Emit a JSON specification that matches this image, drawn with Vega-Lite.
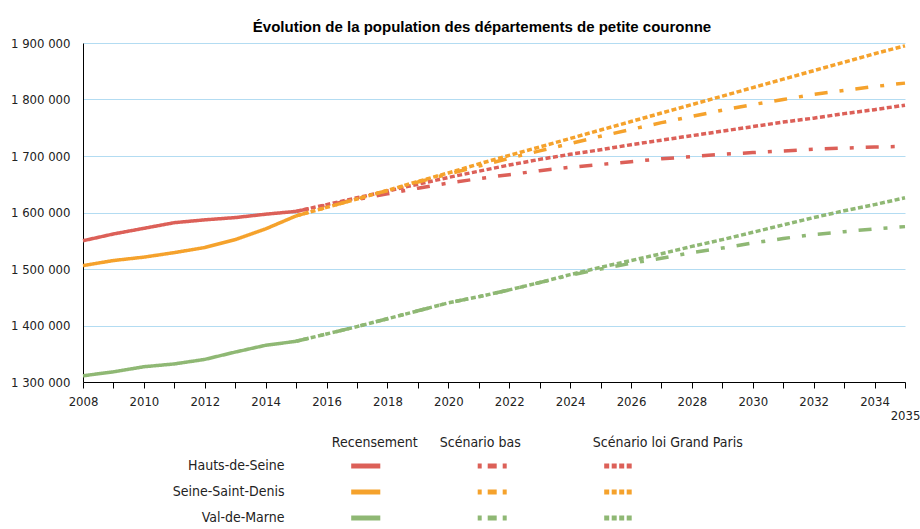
{
  "$schema": "https://vega.github.io/schema/vega-lite/v6.json",
  "background": "white",
  "padding": {"left": 10, "top": 20, "right": 5, "bottom": 5},
  "config": {
    "view": {"stroke": null},
    "font": "DejaVu Sans Condensed",
    "locale": {"number": {"decimal": ",", "thousands": " ", "grouping": [3], "currency": ["", " €"]}},
    "axis": {"labelFont": "DejaVu Sans Condensed", "labelColor": "#222222"}
  },
  "datasets": {
    "series": [
      {"year": 2008, "dept": "Hauts-de-Seine", "scenario": "Recensement", "pop": 1550000},
      {"year": 2009, "dept": "Hauts-de-Seine", "scenario": "Recensement", "pop": 1562000},
      {"year": 2010, "dept": "Hauts-de-Seine", "scenario": "Recensement", "pop": 1572000},
      {"year": 2011, "dept": "Hauts-de-Seine", "scenario": "Recensement", "pop": 1582000},
      {"year": 2012, "dept": "Hauts-de-Seine", "scenario": "Recensement", "pop": 1587000},
      {"year": 2013, "dept": "Hauts-de-Seine", "scenario": "Recensement", "pop": 1591000},
      {"year": 2014, "dept": "Hauts-de-Seine", "scenario": "Recensement", "pop": 1597000},
      {"year": 2015, "dept": "Hauts-de-Seine", "scenario": "Recensement", "pop": 1602000},
      {"year": 2008, "dept": "Seine-Saint-Denis", "scenario": "Recensement", "pop": 1506000},
      {"year": 2009, "dept": "Seine-Saint-Denis", "scenario": "Recensement", "pop": 1515000},
      {"year": 2010, "dept": "Seine-Saint-Denis", "scenario": "Recensement", "pop": 1521000},
      {"year": 2011, "dept": "Seine-Saint-Denis", "scenario": "Recensement", "pop": 1529000},
      {"year": 2012, "dept": "Seine-Saint-Denis", "scenario": "Recensement", "pop": 1538000},
      {"year": 2013, "dept": "Seine-Saint-Denis", "scenario": "Recensement", "pop": 1552000},
      {"year": 2014, "dept": "Seine-Saint-Denis", "scenario": "Recensement", "pop": 1571000},
      {"year": 2015, "dept": "Seine-Saint-Denis", "scenario": "Recensement", "pop": 1594000},
      {"year": 2008, "dept": "Val-de-Marne", "scenario": "Recensement", "pop": 1311000},
      {"year": 2009, "dept": "Val-de-Marne", "scenario": "Recensement", "pop": 1318000},
      {"year": 2010, "dept": "Val-de-Marne", "scenario": "Recensement", "pop": 1327000},
      {"year": 2011, "dept": "Val-de-Marne", "scenario": "Recensement", "pop": 1332000},
      {"year": 2012, "dept": "Val-de-Marne", "scenario": "Recensement", "pop": 1340000},
      {"year": 2013, "dept": "Val-de-Marne", "scenario": "Recensement", "pop": 1353000},
      {"year": 2014, "dept": "Val-de-Marne", "scenario": "Recensement", "pop": 1365000},
      {"year": 2015, "dept": "Val-de-Marne", "scenario": "Recensement", "pop": 1372000},

      {"year": 2015, "dept": "Hauts-de-Seine", "scenario": "Scénario bas", "pop": 1602000},
      {"year": 2016, "dept": "Hauts-de-Seine", "scenario": "Scénario bas", "pop": 1613000},
      {"year": 2017, "dept": "Hauts-de-Seine", "scenario": "Scénario bas", "pop": 1623000},
      {"year": 2018, "dept": "Hauts-de-Seine", "scenario": "Scénario bas", "pop": 1633000},
      {"year": 2019, "dept": "Hauts-de-Seine", "scenario": "Scénario bas", "pop": 1643000},
      {"year": 2020, "dept": "Hauts-de-Seine", "scenario": "Scénario bas", "pop": 1652000},
      {"year": 2021, "dept": "Hauts-de-Seine", "scenario": "Scénario bas", "pop": 1660000},
      {"year": 2022, "dept": "Hauts-de-Seine", "scenario": "Scénario bas", "pop": 1667000},
      {"year": 2023, "dept": "Hauts-de-Seine", "scenario": "Scénario bas", "pop": 1674000},
      {"year": 2024, "dept": "Hauts-de-Seine", "scenario": "Scénario bas", "pop": 1680000},
      {"year": 2025, "dept": "Hauts-de-Seine", "scenario": "Scénario bas", "pop": 1685000},
      {"year": 2026, "dept": "Hauts-de-Seine", "scenario": "Scénario bas", "pop": 1690000},
      {"year": 2027, "dept": "Hauts-de-Seine", "scenario": "Scénario bas", "pop": 1695000},
      {"year": 2028, "dept": "Hauts-de-Seine", "scenario": "Scénario bas", "pop": 1699000},
      {"year": 2029, "dept": "Hauts-de-Seine", "scenario": "Scénario bas", "pop": 1703000},
      {"year": 2030, "dept": "Hauts-de-Seine", "scenario": "Scénario bas", "pop": 1706000},
      {"year": 2031, "dept": "Hauts-de-Seine", "scenario": "Scénario bas", "pop": 1709000},
      {"year": 2032, "dept": "Hauts-de-Seine", "scenario": "Scénario bas", "pop": 1712000},
      {"year": 2033, "dept": "Hauts-de-Seine", "scenario": "Scénario bas", "pop": 1714000},
      {"year": 2034, "dept": "Hauts-de-Seine", "scenario": "Scénario bas", "pop": 1716000},
      {"year": 2035, "dept": "Hauts-de-Seine", "scenario": "Scénario bas", "pop": 1717000},

      {"year": 2015, "dept": "Hauts-de-Seine", "scenario": "Scénario loi Grand Paris", "pop": 1602000},
      {"year": 2016, "dept": "Hauts-de-Seine", "scenario": "Scénario loi Grand Paris", "pop": 1614000},
      {"year": 2017, "dept": "Hauts-de-Seine", "scenario": "Scénario loi Grand Paris", "pop": 1626000},
      {"year": 2018, "dept": "Hauts-de-Seine", "scenario": "Scénario loi Grand Paris", "pop": 1638000},
      {"year": 2019, "dept": "Hauts-de-Seine", "scenario": "Scénario loi Grand Paris", "pop": 1650000},
      {"year": 2020, "dept": "Hauts-de-Seine", "scenario": "Scénario loi Grand Paris", "pop": 1662000},
      {"year": 2021, "dept": "Hauts-de-Seine", "scenario": "Scénario loi Grand Paris", "pop": 1673000},
      {"year": 2022, "dept": "Hauts-de-Seine", "scenario": "Scénario loi Grand Paris", "pop": 1684000},
      {"year": 2023, "dept": "Hauts-de-Seine", "scenario": "Scénario loi Grand Paris", "pop": 1694000},
      {"year": 2024, "dept": "Hauts-de-Seine", "scenario": "Scénario loi Grand Paris", "pop": 1703000},
      {"year": 2025, "dept": "Hauts-de-Seine", "scenario": "Scénario loi Grand Paris", "pop": 1711000},
      {"year": 2026, "dept": "Hauts-de-Seine", "scenario": "Scénario loi Grand Paris", "pop": 1720000},
      {"year": 2027, "dept": "Hauts-de-Seine", "scenario": "Scénario loi Grand Paris", "pop": 1728000},
      {"year": 2028, "dept": "Hauts-de-Seine", "scenario": "Scénario loi Grand Paris", "pop": 1736000},
      {"year": 2029, "dept": "Hauts-de-Seine", "scenario": "Scénario loi Grand Paris", "pop": 1744000},
      {"year": 2030, "dept": "Hauts-de-Seine", "scenario": "Scénario loi Grand Paris", "pop": 1752000},
      {"year": 2031, "dept": "Hauts-de-Seine", "scenario": "Scénario loi Grand Paris", "pop": 1760000},
      {"year": 2032, "dept": "Hauts-de-Seine", "scenario": "Scénario loi Grand Paris", "pop": 1767000},
      {"year": 2033, "dept": "Hauts-de-Seine", "scenario": "Scénario loi Grand Paris", "pop": 1775000},
      {"year": 2034, "dept": "Hauts-de-Seine", "scenario": "Scénario loi Grand Paris", "pop": 1782000},
      {"year": 2035, "dept": "Hauts-de-Seine", "scenario": "Scénario loi Grand Paris", "pop": 1790000},

      {"year": 2015, "dept": "Seine-Saint-Denis", "scenario": "Scénario bas", "pop": 1594000},
      {"year": 2016, "dept": "Seine-Saint-Denis", "scenario": "Scénario bas", "pop": 1609000},
      {"year": 2017, "dept": "Seine-Saint-Denis", "scenario": "Scénario bas", "pop": 1624000},
      {"year": 2018, "dept": "Seine-Saint-Denis", "scenario": "Scénario bas", "pop": 1639000},
      {"year": 2019, "dept": "Seine-Saint-Denis", "scenario": "Scénario bas", "pop": 1654000},
      {"year": 2020, "dept": "Seine-Saint-Denis", "scenario": "Scénario bas", "pop": 1668000},
      {"year": 2021, "dept": "Seine-Saint-Denis", "scenario": "Scénario bas", "pop": 1682000},
      {"year": 2022, "dept": "Seine-Saint-Denis", "scenario": "Scénario bas", "pop": 1696000},
      {"year": 2023, "dept": "Seine-Saint-Denis", "scenario": "Scénario bas", "pop": 1709000},
      {"year": 2024, "dept": "Seine-Saint-Denis", "scenario": "Scénario bas", "pop": 1722000},
      {"year": 2025, "dept": "Seine-Saint-Denis", "scenario": "Scénario bas", "pop": 1735000},
      {"year": 2026, "dept": "Seine-Saint-Denis", "scenario": "Scénario bas", "pop": 1747000},
      {"year": 2027, "dept": "Seine-Saint-Denis", "scenario": "Scénario bas", "pop": 1759000},
      {"year": 2028, "dept": "Seine-Saint-Denis", "scenario": "Scénario bas", "pop": 1770000},
      {"year": 2029, "dept": "Seine-Saint-Denis", "scenario": "Scénario bas", "pop": 1781000},
      {"year": 2030, "dept": "Seine-Saint-Denis", "scenario": "Scénario bas", "pop": 1791000},
      {"year": 2031, "dept": "Seine-Saint-Denis", "scenario": "Scénario bas", "pop": 1800000},
      {"year": 2032, "dept": "Seine-Saint-Denis", "scenario": "Scénario bas", "pop": 1809000},
      {"year": 2033, "dept": "Seine-Saint-Denis", "scenario": "Scénario bas", "pop": 1816000},
      {"year": 2034, "dept": "Seine-Saint-Denis", "scenario": "Scénario bas", "pop": 1823000},
      {"year": 2035, "dept": "Seine-Saint-Denis", "scenario": "Scénario bas", "pop": 1829000},

      {"year": 2015, "dept": "Seine-Saint-Denis", "scenario": "Scénario loi Grand Paris", "pop": 1594000},
      {"year": 2016, "dept": "Seine-Saint-Denis", "scenario": "Scénario loi Grand Paris", "pop": 1609000},
      {"year": 2017, "dept": "Seine-Saint-Denis", "scenario": "Scénario loi Grand Paris", "pop": 1624000},
      {"year": 2018, "dept": "Seine-Saint-Denis", "scenario": "Scénario loi Grand Paris", "pop": 1639000},
      {"year": 2019, "dept": "Seine-Saint-Denis", "scenario": "Scénario loi Grand Paris", "pop": 1655000},
      {"year": 2020, "dept": "Seine-Saint-Denis", "scenario": "Scénario loi Grand Paris", "pop": 1670000},
      {"year": 2021, "dept": "Seine-Saint-Denis", "scenario": "Scénario loi Grand Paris", "pop": 1686000},
      {"year": 2022, "dept": "Seine-Saint-Denis", "scenario": "Scénario loi Grand Paris", "pop": 1701000},
      {"year": 2023, "dept": "Seine-Saint-Denis", "scenario": "Scénario loi Grand Paris", "pop": 1716000},
      {"year": 2024, "dept": "Seine-Saint-Denis", "scenario": "Scénario loi Grand Paris", "pop": 1731000},
      {"year": 2025, "dept": "Seine-Saint-Denis", "scenario": "Scénario loi Grand Paris", "pop": 1746000},
      {"year": 2026, "dept": "Seine-Saint-Denis", "scenario": "Scénario loi Grand Paris", "pop": 1761000},
      {"year": 2027, "dept": "Seine-Saint-Denis", "scenario": "Scénario loi Grand Paris", "pop": 1776000},
      {"year": 2028, "dept": "Seine-Saint-Denis", "scenario": "Scénario loi Grand Paris", "pop": 1791000},
      {"year": 2029, "dept": "Seine-Saint-Denis", "scenario": "Scénario loi Grand Paris", "pop": 1806000},
      {"year": 2030, "dept": "Seine-Saint-Denis", "scenario": "Scénario loi Grand Paris", "pop": 1821000},
      {"year": 2031, "dept": "Seine-Saint-Denis", "scenario": "Scénario loi Grand Paris", "pop": 1836000},
      {"year": 2032, "dept": "Seine-Saint-Denis", "scenario": "Scénario loi Grand Paris", "pop": 1851000},
      {"year": 2033, "dept": "Seine-Saint-Denis", "scenario": "Scénario loi Grand Paris", "pop": 1866000},
      {"year": 2034, "dept": "Seine-Saint-Denis", "scenario": "Scénario loi Grand Paris", "pop": 1881000},
      {"year": 2035, "dept": "Seine-Saint-Denis", "scenario": "Scénario loi Grand Paris", "pop": 1895000},

      {"year": 2015, "dept": "Val-de-Marne", "scenario": "Scénario bas", "pop": 1372000},
      {"year": 2016, "dept": "Val-de-Marne", "scenario": "Scénario bas", "pop": 1385000},
      {"year": 2017, "dept": "Val-de-Marne", "scenario": "Scénario bas", "pop": 1398000},
      {"year": 2018, "dept": "Val-de-Marne", "scenario": "Scénario bas", "pop": 1412000},
      {"year": 2019, "dept": "Val-de-Marne", "scenario": "Scénario bas", "pop": 1426000},
      {"year": 2020, "dept": "Val-de-Marne", "scenario": "Scénario bas", "pop": 1440000},
      {"year": 2021, "dept": "Val-de-Marne", "scenario": "Scénario bas", "pop": 1451000},
      {"year": 2022, "dept": "Val-de-Marne", "scenario": "Scénario bas", "pop": 1463000},
      {"year": 2023, "dept": "Val-de-Marne", "scenario": "Scénario bas", "pop": 1476000},
      {"year": 2024, "dept": "Val-de-Marne", "scenario": "Scénario bas", "pop": 1489000},
      {"year": 2025, "dept": "Val-de-Marne", "scenario": "Scénario bas", "pop": 1500000},
      {"year": 2026, "dept": "Val-de-Marne", "scenario": "Scénario bas", "pop": 1510000},
      {"year": 2027, "dept": "Val-de-Marne", "scenario": "Scénario bas", "pop": 1519000},
      {"year": 2028, "dept": "Val-de-Marne", "scenario": "Scénario bas", "pop": 1529000},
      {"year": 2029, "dept": "Val-de-Marne", "scenario": "Scénario bas", "pop": 1537000},
      {"year": 2030, "dept": "Val-de-Marne", "scenario": "Scénario bas", "pop": 1546000},
      {"year": 2031, "dept": "Val-de-Marne", "scenario": "Scénario bas", "pop": 1554000},
      {"year": 2032, "dept": "Val-de-Marne", "scenario": "Scénario bas", "pop": 1561000},
      {"year": 2033, "dept": "Val-de-Marne", "scenario": "Scénario bas", "pop": 1566000},
      {"year": 2034, "dept": "Val-de-Marne", "scenario": "Scénario bas", "pop": 1571000},
      {"year": 2035, "dept": "Val-de-Marne", "scenario": "Scénario bas", "pop": 1575000},

      {"year": 2015, "dept": "Val-de-Marne", "scenario": "Scénario loi Grand Paris", "pop": 1372000},
      {"year": 2016, "dept": "Val-de-Marne", "scenario": "Scénario loi Grand Paris", "pop": 1385000},
      {"year": 2017, "dept": "Val-de-Marne", "scenario": "Scénario loi Grand Paris", "pop": 1398000},
      {"year": 2018, "dept": "Val-de-Marne", "scenario": "Scénario loi Grand Paris", "pop": 1412000},
      {"year": 2019, "dept": "Val-de-Marne", "scenario": "Scénario loi Grand Paris", "pop": 1426000},
      {"year": 2020, "dept": "Val-de-Marne", "scenario": "Scénario loi Grand Paris", "pop": 1440000},
      {"year": 2021, "dept": "Val-de-Marne", "scenario": "Scénario loi Grand Paris", "pop": 1451000},
      {"year": 2022, "dept": "Val-de-Marne", "scenario": "Scénario loi Grand Paris", "pop": 1463000},
      {"year": 2023, "dept": "Val-de-Marne", "scenario": "Scénario loi Grand Paris", "pop": 1476000},
      {"year": 2024, "dept": "Val-de-Marne", "scenario": "Scénario loi Grand Paris", "pop": 1490000},
      {"year": 2025, "dept": "Val-de-Marne", "scenario": "Scénario loi Grand Paris", "pop": 1503000},
      {"year": 2026, "dept": "Val-de-Marne", "scenario": "Scénario loi Grand Paris", "pop": 1515000},
      {"year": 2027, "dept": "Val-de-Marne", "scenario": "Scénario loi Grand Paris", "pop": 1527000},
      {"year": 2028, "dept": "Val-de-Marne", "scenario": "Scénario loi Grand Paris", "pop": 1540000},
      {"year": 2029, "dept": "Val-de-Marne", "scenario": "Scénario loi Grand Paris", "pop": 1552000},
      {"year": 2030, "dept": "Val-de-Marne", "scenario": "Scénario loi Grand Paris", "pop": 1565000},
      {"year": 2031, "dept": "Val-de-Marne", "scenario": "Scénario loi Grand Paris", "pop": 1578000},
      {"year": 2032, "dept": "Val-de-Marne", "scenario": "Scénario loi Grand Paris", "pop": 1591000},
      {"year": 2033, "dept": "Val-de-Marne", "scenario": "Scénario loi Grand Paris", "pop": 1603000},
      {"year": 2034, "dept": "Val-de-Marne", "scenario": "Scénario loi Grand Paris", "pop": 1614000},
      {"year": 2035, "dept": "Val-de-Marne", "scenario": "Scénario loi Grand Paris", "pop": 1626000}
    ],
    "legend": [
      {"dept": "Hauts-de-Seine", "scenario": "Recensement"},
      {"dept": "Hauts-de-Seine", "scenario": "Scénario bas"},
      {"dept": "Hauts-de-Seine", "scenario": "Scénario loi Grand Paris"},
      {"dept": "Seine-Saint-Denis", "scenario": "Recensement"},
      {"dept": "Seine-Saint-Denis", "scenario": "Scénario bas"},
      {"dept": "Seine-Saint-Denis", "scenario": "Scénario loi Grand Paris"},
      {"dept": "Val-de-Marne", "scenario": "Recensement"},
      {"dept": "Val-de-Marne", "scenario": "Scénario bas"},
      {"dept": "Val-de-Marne", "scenario": "Scénario loi Grand Paris"}
    ]
  },
  "resolve": {"scale": {"x": "independent", "y": "independent", "strokeDash": "independent"}},
  "spacing": 13,
  "vconcat": [
    {
      "title": {"text": "Évolution de la population des départements de petite couronne", "font": "Liberation Sans", "fontSize": 15, "fontWeight": "bold", "color": "#000000", "anchor": "middle", "offset": 2, "dx": -12},
      "width": 822,
      "height": 339,
      "data": {"name": "series"},
      "mark": {"type": "line", "strokeWidth": 3.5, "strokeCap": "butt"},
      "encoding": {
        "x": {
          "field": "year", "type": "quantitative",
          "scale": {"domain": [2008, 2035], "nice": false, "zero": false},
          "axis": {
            "title": null,
            "values": [2008, 2009, 2010, 2011, 2012, 2013, 2014, 2015, 2016, 2017, 2018, 2019, 2020, 2021, 2022, 2023, 2024, 2025, 2026, 2027, 2028, 2029, 2030, 2031, 2032, 2033, 2034, 2035],
            "labelExpr": "(datum.value % 2 == 0 || datum.value == 2035) ? '' + datum.value : ''",
            "labelPadding": {"condition": {"test": "datum.value == 2035", "value": 21}, "value": 7},
            "labelFlush": false,
            "labelOverlap": false,
            "labelBound": false,
            "labelFontSize": 13,
            "grid": false,
            "domainColor": "#000000",
            "tickColor": "#000000",
            "tickSize": 6
          }
        },
        "y": {
          "field": "pop", "type": "quantitative",
          "scale": {"domain": [1300000, 1900000], "nice": false, "zero": false},
          "axis": {
            "title": null,
            "values": [1300000, 1400000, 1500000, 1600000, 1700000, 1800000, 1900000],
            "format": ",d",
            "grid": true,
            "gridColor": "#b3dcf2",
            "gridWidth": 1,
            "ticks": false,
            "domainColor": "#000000",
            "labelPadding": 13,
            "labelFontSize": 13
          }
        },
        "color": {
          "field": "dept", "type": "nominal",
          "scale": {"domain": ["Hauts-de-Seine", "Seine-Saint-Denis", "Val-de-Marne"], "range": ["#dc6058", "#f5a22c", "#8fb874"]},
          "legend": null
        },
        "strokeDash": {
          "field": "scenario", "type": "nominal",
          "scale": {"domain": ["Recensement", "Scénario bas", "Scénario loi Grand Paris"], "range": [[1, 0], [13, 12, 4, 12], [5, 2.5]]},
          "legend": null
        }
      }
    },
    {
      "width": 822,
      "height": 78,
      "data": {"name": "legend"},
      "mark": {"type": "rule", "strokeWidth": 5, "strokeCap": "butt"},
      "encoding": {
        "x": {
          "field": "scenario", "type": "nominal", "bandPosition": 0.385,
          "scale": {"domain": ["Recensement", "Scénario bas", "Scénario loi Grand Paris"], "range": [219.5, 599], "paddingInner": 0, "paddingOuter": 0},
          "axis": {
            "orient": "top", "title": null, "ticks": false, "domain": false, "labelAngle": 0, "labelFontSize": 14, "labelPadding": 4, "labelColor": "#222222",
            "labelOffset": {"condition": [{"test": "datum.value == 'Scénario loi Grand Paris'", "value": 49}, {"test": "datum.value == 'Recensement'", "value": 9}], "value": -12}
          }
        },
        "x2": {"field": "scenario", "bandPosition": 0.615},
        "y": {
          "field": "dept", "type": "nominal",
          "sort": ["Hauts-de-Seine", "Seine-Saint-Denis", "Val-de-Marne"],
          "scale": {"paddingInner": 0, "paddingOuter": 0},
          "axis": {"title": null, "ticks": false, "domain": false, "offset": -201, "labelPadding": 0, "labelFontSize": 14, "labelColor": "#222222"}
        },
        "color": {
          "field": "dept", "type": "nominal",
          "scale": {"domain": ["Hauts-de-Seine", "Seine-Saint-Denis", "Val-de-Marne"], "range": ["#dc6058", "#f5a22c", "#8fb874"]},
          "legend": null
        },
        "strokeDash": {
          "field": "scenario", "type": "nominal",
          "scale": {"domain": ["Recensement", "Scénario bas", "Scénario loi Grand Paris"], "range": [[1, 0], [4, 6, 9, 6, 4, 40], [5, 2.5]]},
          "legend": null
        }
      }
    }
  ]
}
